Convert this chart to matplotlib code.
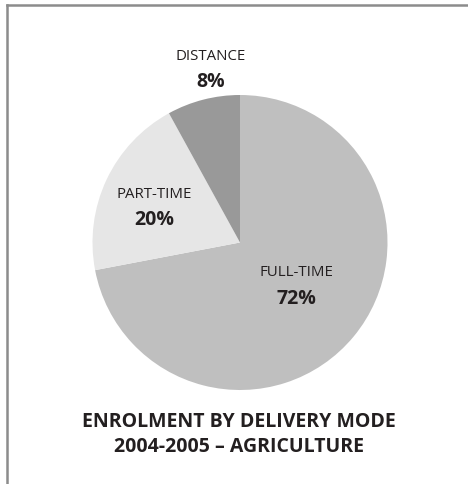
import matplotlib.pyplot as plt
from matplotlib.lines import Line2D

# -------------------------
# DATA
# -------------------------
modes = ["FULL-TIME", "PART-TIME", "DISTANCE"]
shares = [72, 20, 8]
colors = ["#bfbfbf", "#e6e6e6", "#999999"]
title_lines = ["ENROLMENT BY DELIVERY MODE", "2004-2005 \u2013 AGRICULTURE"]

plt.rcParams["font.family"] = ["Open Sans", "DejaVu Sans"]
TEXT = "#231f20"
W, H = 468, 485

fig = plt.figure(figsize=(W / 100, H / 100), dpi=100)
ax = fig.add_axes([0, 0, 1, 1])

ax.pie(shares, colors=colors, startangle=90, counterclock=False,
       center=(240, H - 243.5), radius=147.5,
       wedgeprops={"linewidth": 0})

# pie() resets the limits, so set them afterwards (1 unit = 1 pixel)
ax.set_xlim(0, W)
ax.set_ylim(0, H)
ax.set_aspect("equal")
ax.axis("off")

# label positions (pixels from top-left)
label_pos = {"FULL-TIME": (296, 273), "PART-TIME": (154, 194), "DISTANCE": (211, 56)}
for mode, share in zip(modes, shares):
    x, y = label_pos[mode]
    ax.text(x, H - y, mode, ha="center", va="center", fontsize=10.8, color=TEXT)
    ax.text(x, H - y - 26, f"{share}%", ha="center", va="center",
            fontsize=14, fontweight="bold", color=TEXT)

ax.text(239, H - 422, title_lines[0], ha="center", va="center",
        fontsize=14, fontweight="bold", color=TEXT)
ax.text(239, H - 447, title_lines[1], ha="center", va="center",
        fontsize=14, fontweight="bold", color=TEXT)

# frame lines (top and left only, as cropped in the original)
fig.add_artist(Line2D([6.5 / W, 1], [1 - 5.5 / H, 1 - 5.5 / H],
                      transform=fig.transFigure, color="#8c8c8c", linewidth=1.8))
fig.add_artist(Line2D([6.5 / W, 6.5 / W], [0, 1 - 5.5 / H],
                      transform=fig.transFigure, color="#8c8c8c", linewidth=1.8))

fig.savefig("out.png", dpi=100, facecolor="white")
